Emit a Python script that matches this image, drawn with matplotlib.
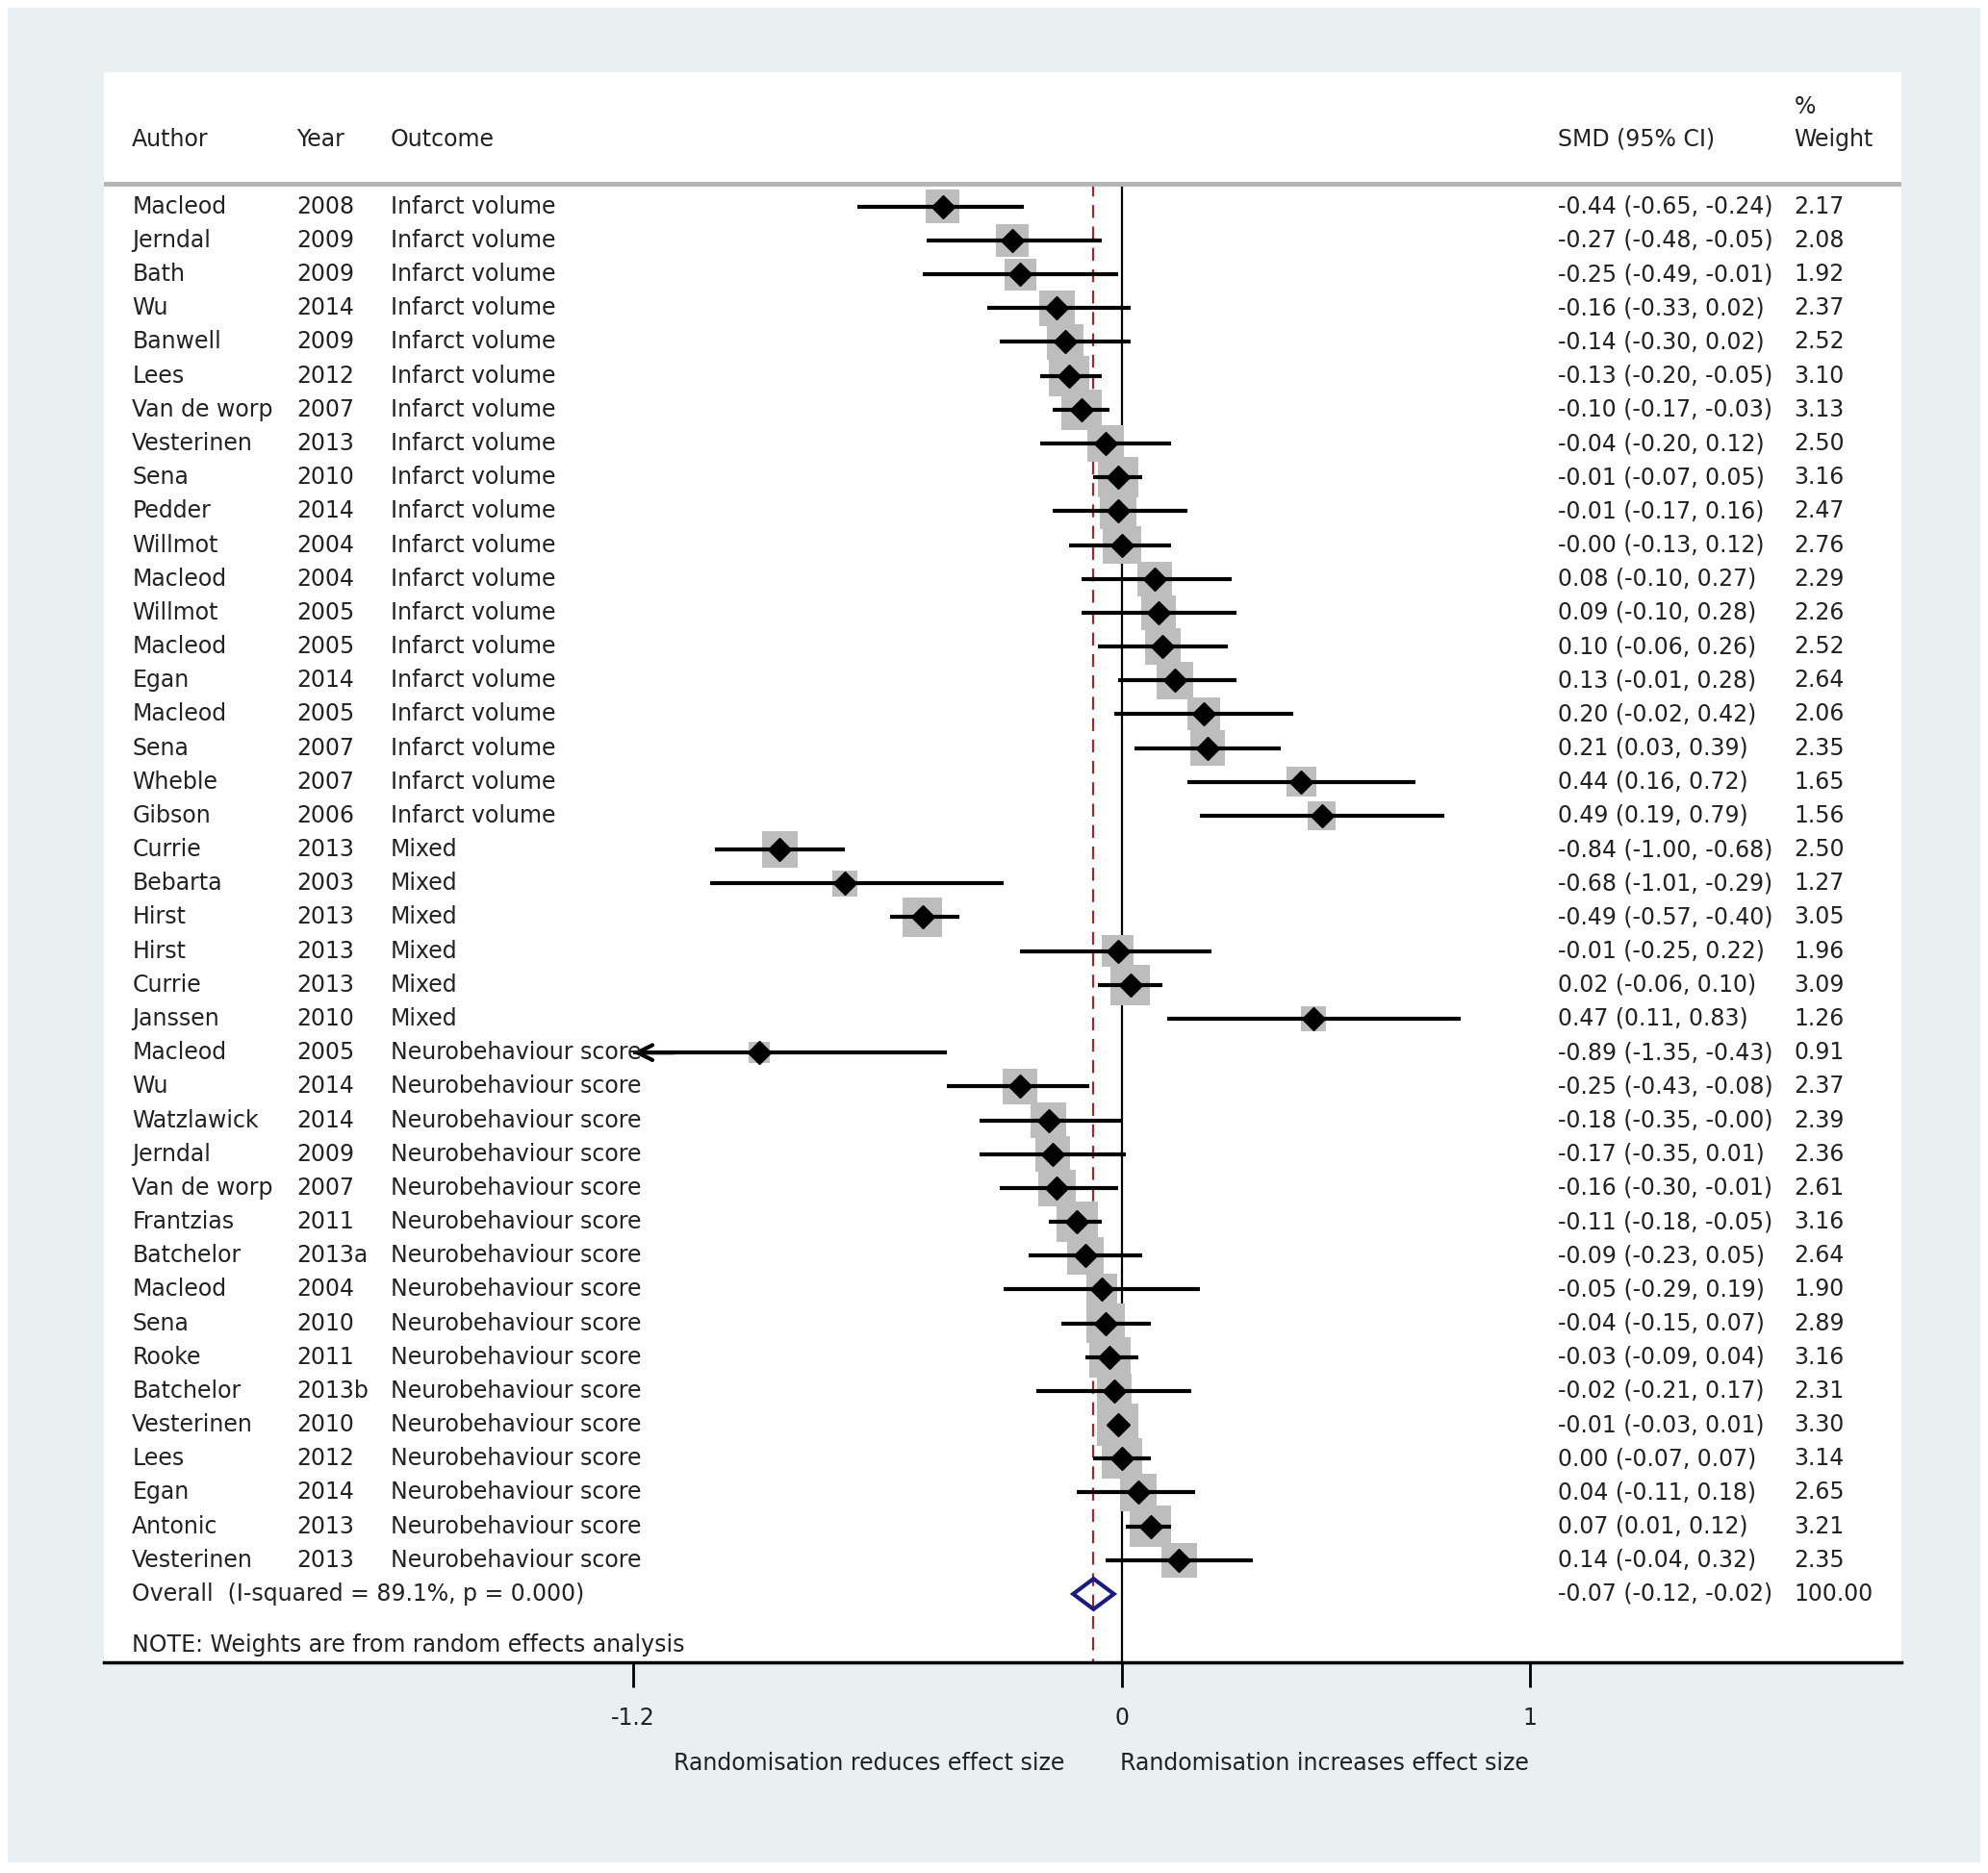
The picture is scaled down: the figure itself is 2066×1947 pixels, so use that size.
import matplotlib
matplotlib.use("Agg")
import matplotlib.pyplot as plt
from matplotlib.patches import Rectangle, Polygon

# Дані з рисунку
authors = ["Macleod", "Jerndal", "Bath", "Wu", "Banwell", "Lees", "Van de worp",
           "Vesterinen", "Sena", "Pedder", "Willmot", "Macleod", "Willmot", "Macleod",
           "Egan", "Macleod", "Sena", "Wheble", "Gibson",
           "Currie", "Bebarta", "Hirst", "Hirst", "Currie", "Janssen",
           "Macleod", "Wu", "Watzlawick", "Jerndal", "Van de worp", "Frantzias",
           "Batchelor", "Macleod", "Sena", "Rooke", "Batchelor", "Vesterinen",
           "Lees", "Egan", "Antonic", "Vesterinen"]
years = ["2008", "2009", "2009", "2014", "2009", "2012", "2007", "2013", "2010", "2014",
         "2004", "2004", "2005", "2005", "2014", "2005", "2007", "2007", "2006",
         "2013", "2003", "2013", "2013", "2013", "2010",
         "2005", "2014", "2014", "2009", "2007", "2011", "2013a", "2004", "2010",
         "2011", "2013b", "2010", "2012", "2014", "2013", "2013"]
outcomes = ["Infarct volume"] * 19 + ["Mixed"] * 6 + ["Neurobehaviour score"] * 16
smd = [-0.44, -0.27, -0.25, -0.16, -0.14, -0.13, -0.10, -0.04, -0.01, -0.01, -0.00,
       0.08, 0.09, 0.10, 0.13, 0.20, 0.21, 0.44, 0.49,
       -0.84, -0.68, -0.49, -0.01, 0.02, 0.47,
       -0.89, -0.25, -0.18, -0.17, -0.16, -0.11, -0.09, -0.05, -0.04, -0.03, -0.02,
       -0.01, 0.00, 0.04, 0.07, 0.14]
lo = [-0.65, -0.48, -0.49, -0.33, -0.30, -0.20, -0.17, -0.20, -0.07, -0.17, -0.13,
      -0.10, -0.10, -0.06, -0.01, -0.02, 0.03, 0.16, 0.19,
      -1.00, -1.01, -0.57, -0.25, -0.06, 0.11,
      -1.35, -0.43, -0.35, -0.35, -0.30, -0.18, -0.23, -0.29, -0.15, -0.09, -0.21,
      -0.03, -0.07, -0.11, 0.01, -0.04]
hi = [-0.24, -0.05, -0.01, 0.02, 0.02, -0.05, -0.03, 0.12, 0.05, 0.16, 0.12,
      0.27, 0.28, 0.26, 0.28, 0.42, 0.39, 0.72, 0.79,
      -0.68, -0.29, -0.40, 0.22, 0.10, 0.83,
      -0.43, -0.08, -0.00, 0.01, -0.01, -0.05, 0.05, 0.19, 0.07, 0.04, 0.17,
      0.01, 0.07, 0.18, 0.12, 0.32]
weights = [2.17, 2.08, 1.92, 2.37, 2.52, 3.10, 3.13, 2.50, 3.16, 2.47, 2.76,
           2.29, 2.26, 2.52, 2.64, 2.06, 2.35, 1.65, 1.56,
           2.50, 1.27, 3.05, 1.96, 3.09, 1.26,
           0.91, 2.37, 2.39, 2.36, 2.61, 3.16, 2.64, 1.90, 2.89, 3.16, 2.31,
           3.30, 3.14, 2.65, 3.21, 2.35]
overall = [-0.07, -0.12, -0.02]
overall_label = "Overall  (I-squared = 89.1%, p = 0.000)"
xticks = [-1.2, 0, 1]
xticklabels = ["-1.2", "0", "1"]

txt = "#222222"
fs = 17

fig = plt.figure(figsize=(20.66, 19.47), dpi=100, facecolor="white")
fig.patches.append(Rectangle((0.0038, 0.0054), 0.9924, 0.9906, transform=fig.transFigure,
                             facecolor="#e8f0f1", edgecolor="none", zorder=-10))
ax = fig.add_axes([0.0523, 0.1123, 0.9043, 0.8491])
ax.set_facecolor("white")
ax.set_xlim(-2.498, 1.913)
ax.set_ylim(43.03, -3.97)
for s in ["top", "left", "right"]:
    ax.spines[s].set_visible(False)
ax.spines["bottom"].set_linewidth(2.5)
ax.set_yticks([])
ax.set_xticks(xticks)
ax.set_xticklabels(xticklabels, fontsize=fs, color=txt)
ax.tick_params(axis="x", direction="out", length=19, width=2, pad=14)

n = len(smd)
rows = list(range(n))

# Заголовки
hy = -1.985
ax.text(-2.429, hy, "Author", fontsize=fs, color=txt, va="center")
ax.text(-2.025, hy, "Year", fontsize=fs, color=txt, va="center")
ax.text(-1.795, hy, "Outcome", fontsize=fs, color=txt, va="center")
ax.text(1.070, hy, "SMD (95% CI)", fontsize=fs, color=txt, va="center")
ax.text(1.649, hy, "Weight", fontsize=fs, color=txt, va="center")
ax.text(1.649, -2.96, "%", fontsize=fs, color=txt, va="center")
ax.axhline(-0.67, color="#b4b4b4", lw=3.5)

# Опорні лінії
ax.plot([0, 0], [-0.67, 43.03], color="black", lw=1.6, zorder=1)
ax.plot([overall[0], overall[0]], [-0.67, 43.03], color="#a3262e", lw=1.6,
        dashes=(6, 4), zorder=1)

# Квадрати ваг, довірчі інтервали, точки
ax.scatter(smd, rows, s=[293 * w for w in weights], marker="s", color="#bdbdbd",
           edgecolors="none", zorder=2)
xmin_ci = xticks[0]
for i in rows:
    left = max(lo[i], xmin_ci)
    ax.plot([left, hi[i]], [i, i], color="black", lw=3, solid_capstyle="butt", zorder=3)
    if lo[i] < xmin_ci:
        ax.annotate("", xy=(xmin_ci, i), xytext=(xmin_ci + 0.1, i),
                    arrowprops=dict(arrowstyle="->", lw=3, color="black",
                                    mutation_scale=28, shrinkA=0, shrinkB=0), zorder=3)
ax.plot(smd, rows, "D", color="black", markersize=12.5, zorder=4)

# Текст рядків
for i in rows:
    ax.text(-2.429, i, authors[i], fontsize=fs, color=txt, va="center")
    ax.text(-2.025, i, years[i], fontsize=fs, color=txt, va="center")
    ax.text(-1.795, i, outcomes[i], fontsize=fs, color=txt, va="center")
    ax.text(1.070, i, f"{smd[i]:.2f} ({lo[i]:.2f}, {hi[i]:.2f})", fontsize=fs,
            color=txt, va="center")
    ax.text(1.649, i, f"{weights[i]:.2f}", fontsize=fs, color=txt, va="center")

# Загальний ефект
oy = n
est, olo, ohi = overall
ax.add_patch(Polygon([[olo, oy], [est, oy - 0.45], [ohi, oy], [est, oy + 0.45]],
                     closed=True, fill=False, edgecolor="#1c1c7c", lw=3, zorder=4))
ax.text(-2.429, oy, overall_label, fontsize=fs, color=txt, va="center")
ax.text(1.070, oy, f"{est:.2f} ({olo:.2f}, {ohi:.2f})", fontsize=fs, color=txt,
        va="center")
ax.text(1.649, oy, "100.00", fontsize=fs, color=txt, va="center")

ax.text(-2.429, 42.5, "NOTE: Weights are from random effects analysis", fontsize=fs,
        color=txt, va="center")

ax.text(-0.14, 46.0, "Randomisation reduces effect size", fontsize=fs, color=txt,
        va="center", ha="right")
ax.text(-0.006, 46.0, "Randomisation increases effect size", fontsize=fs, color=txt,
        va="center", ha="left")

fig.savefig("out.png", dpi=100, facecolor=fig.get_facecolor())
